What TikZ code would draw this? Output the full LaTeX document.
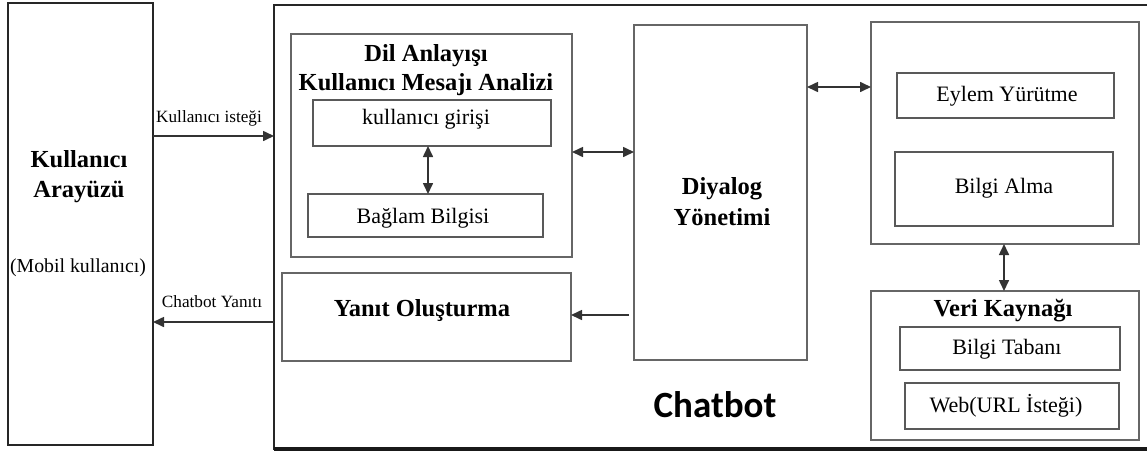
\documentclass[tikz,border=0pt]{standalone}
\usepackage{fontspec}
\setmainfont{Liberation Serif}
\newfontfamily\cbfont{Carlito}
\usetikzlibrary{arrows.meta}
\tikzset{
  x=1pt, y=-1pt,
  outerbox/.style={draw=black!85, line width=2.2pt, inner sep=0pt, outer sep=0pt, anchor=north west},
  grpbox/.style={draw=black!60, line width=1.6pt, inner sep=0pt, outer sep=0pt, anchor=north west},
  subbox/.style={draw=black!65, line width=1.5pt, inner sep=0pt, outer sep=0pt, anchor=north west},
  boldtxt/.style={font=\fontsize{24.5}{28}\selectfont\bfseries, inner sep=0pt, align=center},
  regtxt/.style={font=\fontsize{22}{26}\selectfont, inner sep=0pt, align=center},
  lbltxt/.style={font=\fontsize{17.2}{20}\selectfont, inner sep=0pt},
  arr/.style={draw=black!80, line width=1.6pt, -{Triangle[length=11pt,width=10pt]}},
  darr/.style={draw=black!80, line width=1.6pt, {Triangle[length=11pt,width=10pt]}-{Triangle[length=11pt,width=10pt]}},
}
\begin{document}
\begin{tikzpicture}
\useasboundingbox (0,0) rectangle (1147,453);
% left UI box
\node[outerbox, minimum width=145pt, minimum height=442pt] (ui) at (8,3) {};
\node[boldtxt] (uit) at (79,177) {Kullanıcı\\[2pt]Arayüzü};
\node[font=\fontsize{19.8}{23}\selectfont, inner sep=0pt] (uim) at (78,268) {(Mobil kullanıcı)};
% chatbot outer box
\node[outerbox, minimum width=890pt, minimum height=444pt] (chat) at (274,5) {};
\draw[black!90, line width=3.2pt] (chat.south west) -- (chat.south east);
\node[font=\cbfont\fontsize{37}{42}\selectfont\bfseries, inner sep=0pt] (cbt) at (715,405) {Chatbot};
% Dil Anlayisi group
\node[grpbox, minimum width=281pt, minimum height=223pt] (dil) at (291,34) {};
\node[boldtxt] (dilt) at (426,70) {Dil Anlayışı\\[1pt]Kullanıcı Mesajı Analizi};
\node[subbox, minimum width=238pt, minimum height=46pt] (giris) at (313,100) {};
\node[regtxt] (girist) at (426,119) {kullanıcı girişi};
\node[subbox, minimum width=235pt, minimum height=43pt] (baglam) at (308,194) {};
\node[regtxt] (baglamt) at (423,218) {Bağlam Bilgisi};
% Yanit olusturma
\node[grpbox, minimum width=289pt, minimum height=88pt] (yanit) at (282,273) {};
\node[boldtxt] (yanitt) at (422,311) {Yanıt Oluşturma};
% Diyalog
\node[grpbox, minimum width=173pt, minimum height=335pt] (dia) at (634,25) {};
\node[boldtxt] (diat) at (722,202) {Diyalog\\[3pt]Yönetimi};
% right top group
\node[grpbox, minimum width=268pt, minimum height=222pt] (rt) at (871,22) {};
\node[subbox, minimum width=217pt, minimum height=45pt] (eylem) at (897,73) {};
\node[regtxt] (eylemt) at (1007,96) {Eylem Yürütme};
\node[subbox, minimum width=218pt, minimum height=74pt] (alma) at (895,152) {};
\node[regtxt] (almat) at (1004,188) {Bilgi Alma};
% Veri kaynagi
\node[grpbox, minimum width=268pt, minimum height=149pt] (veri) at (871,291) {};
\node[boldtxt] (verit) at (1003,311) {Veri Kaynağı};
\node[subbox, minimum width=220pt, minimum height=43pt] (taban) at (900,327) {};
\node[regtxt] (tabant) at (1007,349) {Bilgi Tabanı};
\node[subbox, minimum width=214pt, minimum height=46pt] (web) at (905,383) {};
\node[regtxt] (webt) at (1006,406) {Web(URL İsteği)};
% connectors
\draw[arr] (ui.east |- 0,136) -- (chat.west |- 0,136);
\node[lbltxt] (req) at (209,118) {Kullanıcı isteği};
\draw[arr] (chat.west |- 0,322) -- (ui.east |- 0,322);
\node[lbltxt] (resp) at (212,302) {Chatbot Yanıtı};
\draw[darr] (dil.east |- 0,152) -- (dia.west |- 0,152);
\draw[darr] (dia.east |- 0,87) -- (rt.west |- 0,87);
\draw[arr] ([xshift=-5pt]dia.west |- 0,315) -- (yanit.east |- 0,315);
\draw[darr] (giris.south -| 428,0) -- (baglam.north -| 428,0);
\draw[darr] (rt.south -| 1004,0) -- (veri.north -| 1004,0);
\end{tikzpicture}
\end{document}
